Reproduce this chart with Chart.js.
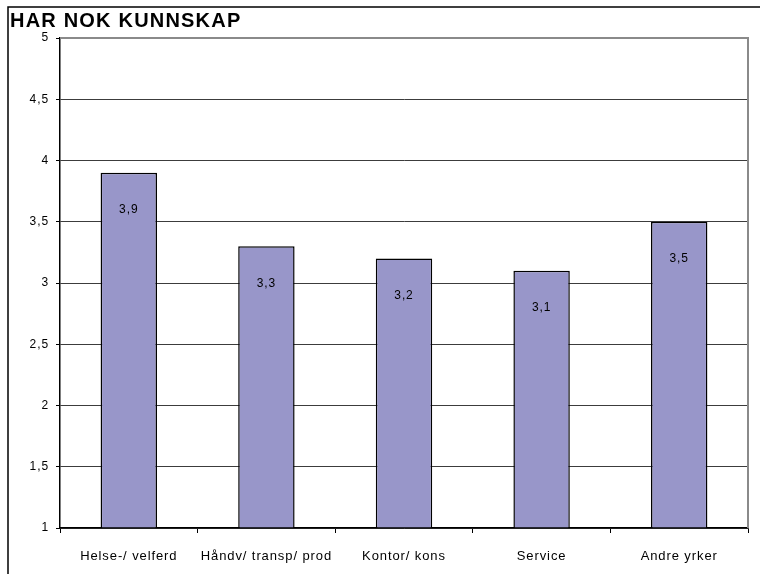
<!DOCTYPE html>
<html>
<head>
<meta charset="utf-8">
<script src="https://cdn.jsdelivr.net/npm/chart.js@4"></script>
<style>
  html, body { margin: 0; padding: 0; background: #fff; }
  #wrap { width: 760px; height: 574px; }
</style>
</head>
<body>
<div id="wrap"><canvas id="kunnskapChart" width="760" height="574"></canvas></div>
<script>
// Kategorier og verdier
const categories = ['Helse-/ velferd', 'Håndv/ transp/ prod', 'Kontor/ kons', 'Service', 'Andre yrker'];
const values = [3.9, 3.3, 3.2, 3.1, 3.5];
const yTicks = [1, 1.5, 2, 2.5, 3, 3.5, 4, 4.5, 5];
const chartTitle = 'HAR NOK KUNNSKAP';

const FONT = 'Arial, "Liberation Sans", sans-serif';
const fmt = v => String(v).replace('.', ',');

// Ramme, tittel og verdietiketter
const decorPlugin = {
    id: 'decor',
    beforeDraw(chart) {
        // litt luft mellom bokstavene, som i originalen
        chart.ctx.letterSpacing = '0.9px';
    },
    afterDraw(chart) {
        const ctx = chart.ctx;
        const area = chart.chartArea;
        ctx.save();
        // ytre ramme
        ctx.strokeStyle = '#000';
        ctx.lineWidth = 1.5;
        ctx.beginPath();
        ctx.moveTo(8, 574);
        ctx.lineTo(8, 7);
        ctx.lineTo(760, 7);
        ctx.stroke();
        // grå kant øverst og til høyre
        ctx.strokeStyle = '#8a8a8a';
        ctx.lineWidth = 2;
        ctx.beginPath();
        ctx.moveTo(area.left, area.top);
        ctx.lineTo(area.right, area.top);
        ctx.lineTo(area.right, area.bottom);
        ctx.stroke();
        // verdier i søylene
        ctx.fillStyle = '#000';
        ctx.font = '12px ' + FONT;
        ctx.textAlign = 'center';
        ctx.textBaseline = 'middle';
        chart.getDatasetMeta(0).data.forEach((bar, i) => {
            ctx.fillText(fmt(values[i]), bar.x, bar.y + 37);
        });
        // tittel
        ctx.letterSpacing = '1.2px';
        ctx.font = 'bold 20px ' + FONT;
        ctx.textBaseline = 'alphabetic';
        ctx.textAlign = 'left';
        ctx.fillText(chartTitle, 10, 27);
        ctx.restore();
    }
};

const ctx = document.getElementById('kunnskapChart').getContext('2d');
const chart = new Chart(ctx, {
    type: 'bar',
    data: {
        labels: categories,
        datasets: [{
            data: values,
            backgroundColor: '#9896C9',
            borderColor: '#000',
            borderWidth: 1.5,
            barPercentage: 0.41,
            categoryPercentage: 1,
            base: 1
        }]
    },
    options: {
        responsive: false,
        animation: false,
        layout: { padding: { left: 0, right: 12, top: 38, bottom: 0 } },
        plugins: {
            legend: { display: false },
            tooltip: { enabled: false }
        },
        scales: {
            x: {
                offset: true,
                afterFit: axis => { axis.height = 46; },
                grid: {
                    offset: true,
                    drawOnChartArea: false,
                    color: '#000',
                    tickLength: 5,
                    tickWidth: 1
                },
                border: { color: '#000', width: 1.5 },
                ticks: {
                    color: '#000',
                    padding: 16,
                    maxRotation: 0,
                    autoSkip: false,
                    font: { family: FONT, size: 13 }
                }
            },
            y: {
                min: 1,
                max: 5,
                afterBuildTicks: axis => {
                    axis.ticks = yTicks.map(v => ({ value: v }));
                },
                afterFit: axis => { axis.width = 60; },
                grid: {
                    color: c => c.tick && c.tick.value === 5 ? 'rgba(0,0,0,0)' : '#3c3c3c',
                    tickColor: '#000',
                    tickLength: 4,
                    lineWidth: 1
                },
                border: { color: '#000', width: 1.5 },
                ticks: {
                    color: '#000',
                    padding: 7,
                    callback: v => fmt(v),
                    font: { family: FONT, size: 12 }
                }
            }
        }
    },
    plugins: [decorPlugin]
});
</script>
</body>
</html>
